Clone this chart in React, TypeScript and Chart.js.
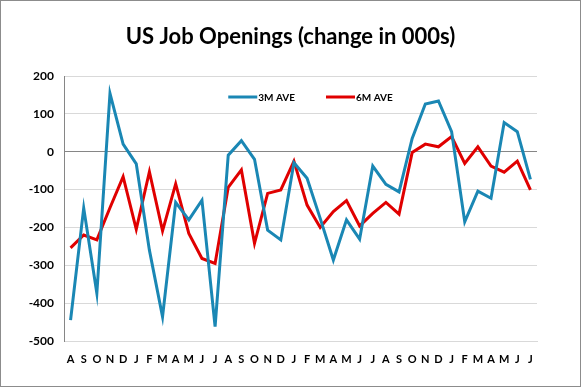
import React, { useEffect, useRef } from "react";
import { Chart, registerables } from "chart.js";

Chart.register(...registerables);

const MONTHS = ["A", "S", "O", "N", "D", "J", "F", "M", "A", "M", "J", "J"];
const categories: string[] = [...MONTHS, ...MONTHS, ...MONTHS];

const threeMonthAve: number[] = [
  -445, -149, -374, 154, 20, -32, -260, -436, -134, -180, -128, -462,
  -9, 29, -20, -207, -233, -29, -70, -176, -286, -180, -231, -38,
  -86, -106, 35, 126, 134, 53, -185, -104, -123, 77, 53, -73,
];

const sixMonthAve: number[] = [
  -254, -220, -233, -148, -66, -205, -53, -209, -85, -216, -282, -295,
  -94, -48, -242, -110, -101, -25, -141, -200, -158, -129, -196, -163,
  -134, -165, -2, 20, 13, 40, -31, 13, -38, -54, -25, -101,
];

const yTicks: number[] = [200, 100, 0, -100, -200, -300, -400, -500];

const FONT = "Lato, 'Open Sans', 'Liberation Sans', sans-serif";

// Legend drawn inside the plot area, near its top.
const inAreaLegend = {
  id: "inAreaLegend",
  afterDraw(chart: any) {
    const { ctx, chartArea } = chart;
    const lineLen = 29;
    const textGap = 1;
    const itemGap = 31;
    ctx.save();
    ctx.font = `bold 10px ${FONT}`;
    const items = chart.data.datasets.map((ds: any) => ({
      label: ds.label as string,
      color: ds.borderColor as string,
      w: lineLen + textGap + ctx.measureText(ds.label).width,
    }));
    const total = items.reduce((a: number, it: any) => a + it.w, 0) + itemGap * (items.length - 1);
    let x = (chartArea.left + chartArea.right) / 2 + 10 - total / 2;
    const y = chartArea.top + 21;
    for (const it of items) {
      ctx.strokeStyle = it.color;
      ctx.lineWidth = 3;
      ctx.beginPath();
      ctx.moveTo(x, y);
      ctx.lineTo(x + lineLen, y);
      ctx.stroke();
      ctx.fillStyle = "#000";
      ctx.textBaseline = "middle";
      ctx.textAlign = "left";
      ctx.fillText(it.label, x + lineLen + textGap, y + 0.5);
      x += it.w + itemGap;
    }
    ctx.restore();
  },
};

export default function App() {
  const ref = useRef<HTMLCanvasElement | null>(null);

  useEffect(() => {
    document.body.style.margin = "0";
    const canvas = ref.current;
    if (!canvas) return;
    const chart = new Chart(canvas, {
      type: "line",
      data: {
        labels: categories,
        datasets: [
          {
            label: "3M AVE",
            data: threeMonthAve,
            borderColor: "#1a87b4",
            backgroundColor: "#1a87b4",
            borderWidth: 3,
            pointRadius: 0,
            tension: 0,
          },
          {
            label: "6M AVE",
            data: sixMonthAve,
            borderColor: "#e00000",
            backgroundColor: "#e00000",
            borderWidth: 3,
            pointRadius: 0,
            tension: 0,
          },
        ],
      },
      options: {
        animation: false,
        responsive: false,
        maintainAspectRatio: false,
        layout: { padding: { left: 0, right: 0, top: 0, bottom: 0 } },
        plugins: {
          title: {
            display: true,
            text: "US Job Openings (change in 000s)",
            color: "#000",
            font: { family: FONT, size: 22, weight: "bold", lineHeight: 1.2 },
            padding: { top: 23, bottom: 25.6 },
          },
          legend: { display: false },
          tooltip: { enabled: false },
        },
        scales: {
          x: {
            offset: true,
            grid: { display: false, drawTicks: false },
            border: { display: true, color: "#d9d9d9" },
            ticks: {
              color: "#000",
              padding: 12,
              maxRotation: 0,
              autoSkip: false,
              font: { family: FONT, size: 11, weight: "bold" },
            },
            afterFit: (s: any) => {
              s.height = 45;
            },
          },
          y: {
            min: -500,
            max: 200,
            afterBuildTicks: (s: any) => {
              s.ticks = yTicks.map((v) => ({ value: v }));
            },
            grid: {
              drawTicks: false,
              color: (c: any) => (c.tick && c.tick.value === 0 ? "#868686" : "#d9d9d9"),
              lineWidth: 1,
            },
            border: { display: true, color: "#868686" },
            ticks: {
              color: "#000",
              padding: 10,
              font: { family: FONT, size: 12, weight: "bold" },
            },
            afterFit: (s: any) => {
              s.width = 63;
            },
          },
          yRight: {
            position: "right",
            display: true,
            min: 0,
            max: 1,
            grid: { display: false, drawTicks: false },
            border: { display: false },
            ticks: { display: false },
            afterFit: (s: any) => {
              s.width = 43;
            },
          },
        },
      },
      plugins: [inAreaLegend],
    });
    return () => chart.destroy();
  }, []);

  return (
    <div
      style={{
        position: "fixed",
        left: 0,
        top: 0,
        width: 581,
        height: 387,
        boxSizing: "border-box",
        border: "1px solid #8c8c8c",
        background: "#fff",
      }}
    >
      <canvas ref={ref} width={579} height={385} style={{ display: "block" }} />
    </div>
  );
}
